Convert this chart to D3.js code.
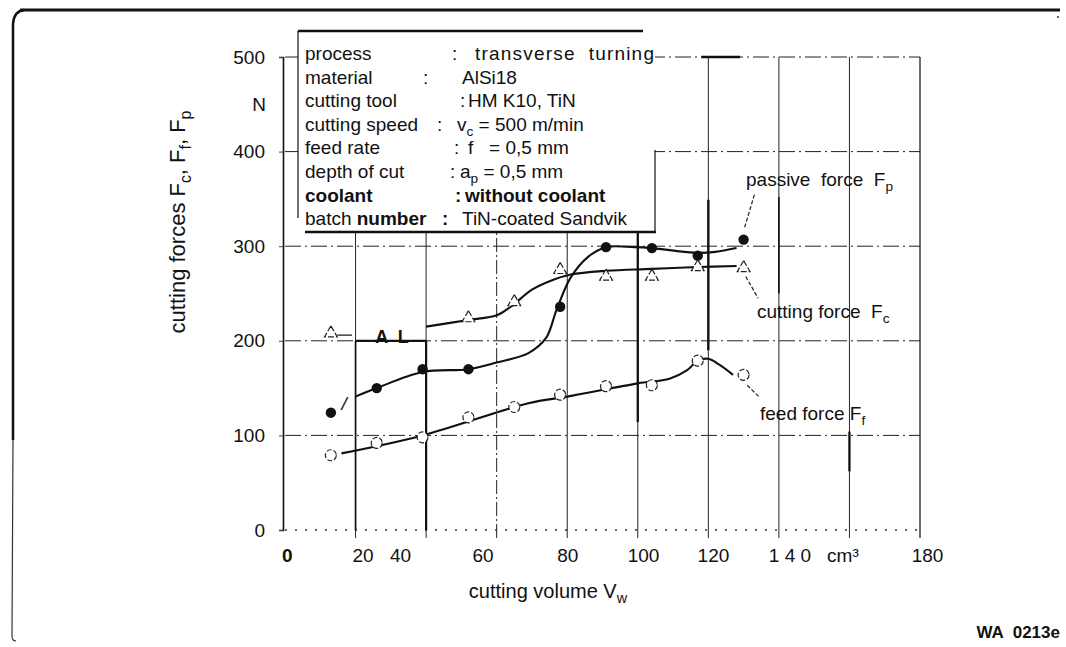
<!DOCTYPE html>
<html>
<head>
<meta charset="utf-8">
<script src="https://cdn.jsdelivr.net/npm/d3@7/dist/d3.min.js"></script>
<style>
body { margin: 0; background: #fff; }
svg text { font-family: "Liberation Sans", Arial, sans-serif; fill: #111; }
</style>
</head>
<body>
<div id="chart"></div>
<script>
var svgWidth = 1066;
var svgHeight = 647;

// measured points, cutting volume in cm3 and force in N
var feedVolume = [13, 26, 39, 52, 65, 78, 91, 104, 117, 130];
var feedForce = [79, 92, 98, 119, 130, 143, 152, 153, 179, 164];
var passiveVolume = [13, 26, 39, 52, 78, 91, 104, 117, 130];
var passiveForce = [124, 150, 170, 170, 236, 299, 298, 290, 307];
var cuttingVolume = [13, 52, 65, 78, 91, 104, 117, 130];
var cuttingForce = [208, 224, 241, 275, 268, 268, 278, 277];

// hand drawn fit curves
var passiveCurveV = [20, 26, 39, 52, 60, 69, 74, 77, 81, 86, 91, 99, 104, 117, 122, 128];
var passiveCurveF = [141, 150, 167, 170, 177, 187, 203, 233, 267, 289, 299, 299, 298, 293, 294, 298];
var cuttingCurveV = [40, 52, 60, 64, 70, 75, 81, 91, 104, 117, 128];
var cuttingCurveF = [215, 222, 227, 236, 254, 263, 270, 274, 276, 278, 279];
var feedCurveV = [16, 39, 69, 80, 100, 109, 114, 117, 120, 123, 127];
var feedCurveF = [81, 100, 134, 141, 155, 160, 169, 179, 181, 175, 164];

// axes
var yTicks = [0, 100, 200, 300, 400, 500];
var xGrid = [20, 40, 60, 80, 100, 120, 140, 160, 180];
var xTickLabels = ["0", "20", "40", "60", "80", "100", "120", "1 4 0", "cm³", "180"];
var xTickAt = [0.5, 22, 32.6, 56, 80, 101.5, 121.3, 143, 158, 182];

// info box text
var infoLabels = ["process", "material", "cutting tool", "cutting speed", "feed rate", "depth of cut", "coolant", "batch number"];
var infoValues = ["transverse  turning", "AlSi18", "HM K10, TiN", "v_c = 500 m/min", "f   = 0,5 mm", "a_p = 0,5 mm", "without coolant", "TiN-coated Sandvik"];

var svg = d3.select('#chart')
    .append('svg')
    .attr('width', svgWidth)
    .attr('height', svgHeight);

var x = d3.scaleLinear().domain([0, 180]).range([285, 920]);
var y = d3.scaleLinear().domain([0, 500]).range([530, 57]);

// write a string with _x subscripts into a text element
function richText(sel, str, size) {
    var parts = str.split(/_(\w)/);
    var shift = Math.round(size * 0.25);
    var back = false;
    parts.forEach(function(p, i) {
        if (p === '') return;
        if (i % 2 == 1) {
            sel.append('tspan').attr('font-size', (size * 0.72) + 'px').attr('dy', shift).text(p);
            back = true;
        } else {
            var t = sel.append('tspan').text(p);
            if (back) t.attr('dy', -shift);
            back = false;
        }
    });
    return sel;
}

// frame of the scanned figure
svg.append('line')
    .attr('x1', 20).attr('x2', 1060).attr('y1', 10).attr('y2', 10)
    .attr('stroke', '#111').attr('stroke-width', 3);
svg.append('path')
    .attr('d', 'M24,10 Q14,11 13,24 L13,440')
    .attr('fill', 'none').attr('stroke', '#111').attr('stroke-width', 2.5);
svg.append('path')
    .attr('d', 'M13,440 L12,636 Q12,641 16,641')
    .attr('fill', 'none').attr('stroke', '#333').attr('stroke-width', 1.2);
svg.append('circle').attr('cx', 1058).attr('cy', 17).attr('r', 1).attr('fill', '#333');

var grid = svg.append('g');

// horizontal dash-dot grid lines
grid.selectAll('.hgrid')
    .data(yTicks.slice(1))
    .enter()
    .append('line')
    .attr('x1', x(0)).attr('x2', x(180))
    .attr('y1', d => y(d)).attr('y2', d => y(d))
    .attr('stroke', '#222')
    .attr('stroke-width', 1)
    .attr('stroke-dasharray', '16,4,2,4');

// zero line is dotted
grid.append('line')
    .attr('x1', x(0)).attr('x2', x(180))
    .attr('y1', y(0)).attr('y2', y(0))
    .attr('stroke', '#333')
    .attr('stroke-width', 1.3)
    .attr('stroke-dasharray', '2,8');

// vertical grid lines
grid.selectAll('.vgrid')
    .data(xGrid)
    .enter()
    .append('line')
    .attr('x1', d => x(d)).attr('x2', d => x(d))
    .attr('y1', y(0) + 8).attr('y2', y(500))
    .attr('stroke', '#222')
    .attr('stroke-width', d => d == 180 ? 1.3 : 1)
    .attr('stroke-dasharray', d => d == 60 ? '14,3,2,3' : null);

// heavier pieces of the scanned grid: [x, from, to, width]
var boldV = [[20, 0, 200, 1.7], [40, 0, 200, 2.2], [100, 114, 314, 2.3], [120, 190, 349, 2.4], [140, 250, 352, 1.6], [160, 62, 104, 2.3]];
boldV.forEach(function(b) {
    grid.append('line')
        .attr('x1', x(b[0])).attr('x2', x(b[0]))
        .attr('y1', y(b[1])).attr('y2', y(b[2]))
        .attr('stroke', '#111').attr('stroke-width', b[3]);
});
var boldH = [[200, 20, 40], [500, 118, 129]];
boldH.forEach(function(b) {
    grid.append('line')
        .attr('x1', x(b[1])).attr('x2', x(b[2]))
        .attr('y1', y(b[0])).attr('y2', y(b[0]))
        .attr('stroke', '#111').attr('stroke-width', 2.3);
});

// y axis
var leftAxis = d3.axisLeft(y).tickValues(yTicks).tickSize(4).tickPadding(14);
var yAxis = svg.append('g')
    .attr('transform', 'translate(283,0)')
    .call(leftAxis);
yAxis.select('.domain').attr('stroke', '#111').attr('stroke-width', 1.6);
yAxis.selectAll('.tick line').attr('stroke', '#444');
yAxis.selectAll('text')
    .attr('font-size', '19px')
    .attr('font-family', '"Liberation Sans", Arial, sans-serif')
    .attr('fill', '#111');

svg.append('text')
    .attr('x', 259).attr('y', y(450) + 7)
    .attr('text-anchor', 'middle')
    .attr('font-size', '19px')
    .text('N');

// x axis labels
var bottomAxis = d3.axisBottom(x).tickValues(xTickAt).tickSize(0).tickPadding(19)
    .tickFormat((d, i) => xTickLabels[i]);
var xAxis = svg.append('g')
    .attr('transform', `translate(0,${y(0)})`)
    .call(bottomAxis);
xAxis.select('.domain').remove();
xAxis.selectAll('text')
    .attr('font-size', '19px')
    .attr('font-family', '"Liberation Sans", Arial, sans-serif')
    .attr('fill', '#111')
    .attr('font-weight', (d, i) => i == 0 ? 'bold' : null);

// axis titles
var yTitle = svg.append('text')
    .attr('transform', 'translate(185,222) rotate(-90)')
    .attr('text-anchor', 'middle')
    .attr('font-size', '22px');
richText(yTitle, 'cutting forces F_c, F_f, F_p', 22);

var xTitle = svg.append('text')
    .attr('x', 548).attr('y', 598)
    .attr('text-anchor', 'middle')
    .attr('font-size', '20px');
richText(xTitle, 'cutting volume V_w', 20);

svg.append('text')
    .attr('x', 1060).attr('y', 638)
    .attr('text-anchor', 'end')
    .attr('font-size', '17px')
    .attr('font-weight', 'bold')
    .style('white-space', 'pre')
    .text('WA  0213e');

// info box
var box = svg.append('g');
box.append('rect')
    .attr('x', 298).attr('y', 31).attr('width', 357).attr('height', 201)
    .attr('fill', '#fff');
box.append('line').attr('x1', 298).attr('x2', 643).attr('y1', 31).attr('y2', 31)
    .attr('stroke', '#111').attr('stroke-width', 2.5);
box.append('line').attr('x1', 298).attr('x2', 298).attr('y1', 31).attr('y2', 218)
    .attr('stroke', '#111').attr('stroke-width', 1.2);
box.append('line').attr('x1', 305).attr('x2', 656).attr('y1', 232).attr('y2', 232)
    .attr('stroke', '#111').attr('stroke-width', 2.6);
box.append('line').attr('x1', 655).attr('x2', 655).attr('y1', 150).attr('y2', 232)
    .attr('stroke', '#111').attr('stroke-width', 1.2);

var colonX = [452, 423, 460, 437, 454, 450, 455, 442];
var valueX = [475, 462, 468, 457, 468, 460, 465, 462];
infoLabels.forEach(function(lab, i) {
    var rowY = 60 + i * 23.6;
    var bold = lab == 'coolant';
    var t = box.append('text')
        .attr('x', 305).attr('y', rowY)
        .attr('font-size', '19px')
        .attr('font-weight', bold ? 'bold' : null);
    if (lab == 'batch number') {
        t.append('tspan').text('batch ');
        t.append('tspan').attr('font-weight', 'bold').text('number');
    } else {
        t.text(lab);
    }
    box.append('text')
        .attr('x', colonX[i]).attr('y', rowY)
        .attr('font-size', '19px')
        .attr('font-weight', bold || lab == 'batch number' ? 'bold' : null)
        .text(':');
    var v = box.append('text')
        .attr('x', valueX[i]).attr('y', rowY)
        .attr('font-size', '19px')
        .attr('font-weight', bold ? 'bold' : null)
        .style('white-space', 'pre')
        .attr('letter-spacing', i == 0 ? '1.2px' : null);
    richText(v, infoValues[i], 19);
});

// fit curves
function curvePath(vs, fs) {
    return d3.line()
        .x(d => x(d[0]))
        .y(d => y(d[1]))
        .curve(d3.curveCatmullRom.alpha(0.5))(vs.map((v, i) => [v, fs[i]]));
}
var curves = svg.append('g').attr('fill', 'none').attr('stroke', '#111').attr('stroke-width', 2.1);
curves.append('path').attr('d', curvePath(passiveCurveV, passiveCurveF));
curves.append('path').attr('d', curvePath(cuttingCurveV, cuttingCurveF));
curves.append('path').attr('d', curvePath(feedCurveV, feedCurveF));

// markers
svg.selectAll('.passive')
    .data(passiveVolume)
    .enter()
    .append('circle')
    .attr('cx', d => x(d))
    .attr('cy', (d, i) => y(passiveForce[i]))
    .attr('r', 5.2)
    .attr('fill', '#111');

svg.selectAll('.feed')
    .data(feedVolume)
    .enter()
    .append('circle')
    .attr('cx', d => x(d))
    .attr('cy', (d, i) => y(feedForce[i]))
    .attr('r', 5.5)
    .attr('fill', '#fff')
    .attr('stroke', '#222')
    .attr('stroke-width', 1.2)
    .attr('stroke-dasharray', '5,2');

var tri = d3.symbol().type(d3.symbolTriangle).size(70);
svg.selectAll('.cutting')
    .data(cuttingVolume)
    .enter()
    .append('path')
    .attr('d', tri)
    .attr('transform', (d, i) => `translate(${x(d)},${y(cuttingForce[i])})`)
    .attr('fill', '#fff')
    .attr('stroke', '#222')
    .attr('stroke-width', 1.2)
    .attr('stroke-dasharray', '6,2');

// curve names with leader lines
function leader(v1, f1, v2, f2) {
    svg.append('line')
        .attr('x1', x(v1)).attr('y1', y(f1))
        .attr('x2', x(v2)).attr('y2', y(f2))
        .attr('stroke', '#222').attr('stroke-width', 1.2)
        .attr('stroke-dasharray', '4,2');
}
leader(130.3, 320, 133.1, 355);
leader(130.6, 268, 134.1, 245);
leader(131, 153, 134.6, 140);

var labelP = svg.append('text').attr('x', 746).attr('y', 186).attr('font-size', '19px').style('white-space', 'pre');
richText(labelP, 'passive  force  F_p', 19);
var labelC = svg.append('text').attr('x', 757).attr('y', 318).attr('font-size', '19px').style('white-space', 'pre');
richText(labelC, 'cutting force  F_c', 19);
var labelF = svg.append('text').attr('x', 760).attr('y', 420).attr('font-size', '19px').style('white-space', 'pre');
richText(labelF, 'feed force F_f', 19);

// scan marks left of the curves
svg.append('line')
    .attr('x1', x(14.8)).attr('x2', x(19)).attr('y1', y(206)).attr('y2', y(206))
    .attr('stroke', '#222').attr('stroke-width', 1.3);
svg.append('text')
    .attr('x', x(25.6)).attr('y', y(198))
    .attr('font-size', '18px').attr('font-weight', 'bold')
    .style('white-space', 'pre')
    .text('A  L');
svg.append('text')
    .attr('x', x(16)).attr('y', y(127))
    .attr('font-size', '19px').attr('font-style', 'italic')
    .text('/');
</script>
</body>
</html>
